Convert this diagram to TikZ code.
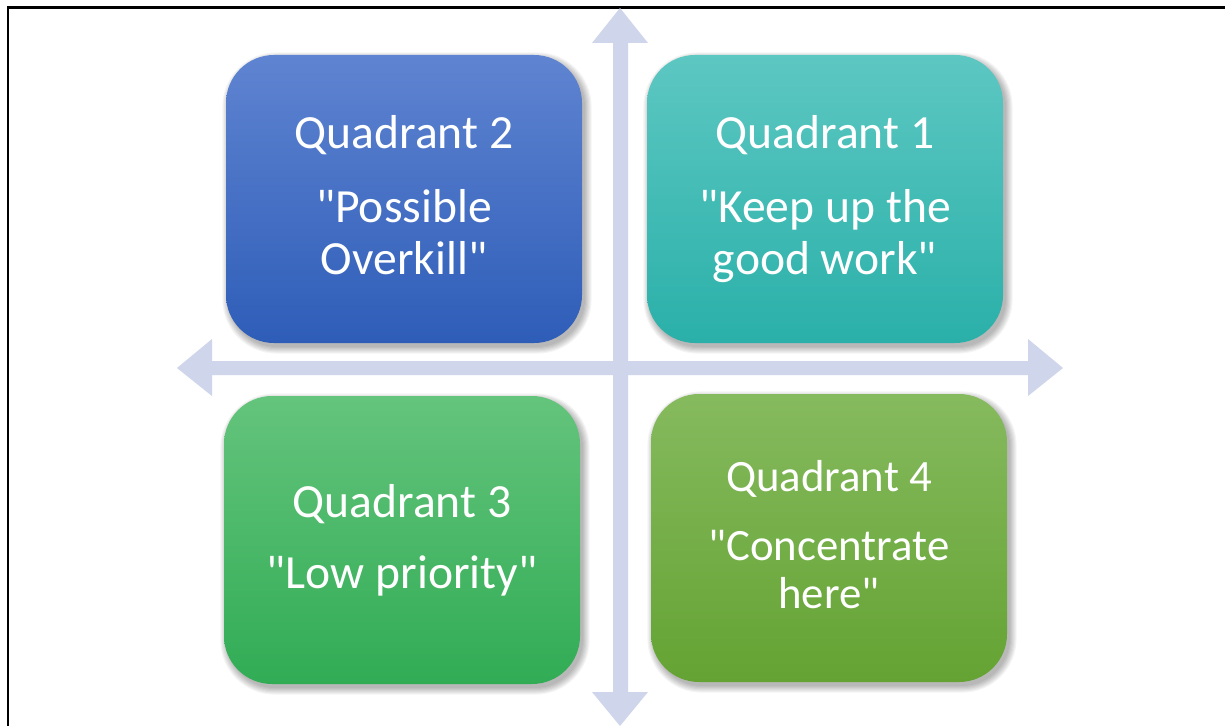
\documentclass[tikz,border=0pt]{standalone}
\usepackage{fontspec}
\setmainfont{Carlito}[Ligatures=TeXOff]
\usetikzlibrary{calc}
\definecolor{axiscol}{HTML}{CFD5EA}
\definecolor{qtwotop}{HTML}{5F84D1}
\definecolor{qtwobot}{HTML}{2E5DB8}
\definecolor{qonetop}{HTML}{5DC7C2}
\definecolor{qonebot}{HTML}{2AB0A9}
\definecolor{qthreetop}{HTML}{64C47C}
\definecolor{qthreebot}{HTML}{31AC55}
\definecolor{qfourtop}{HTML}{86BA5E}
\definecolor{qfourbot}{HTML}{64A333}
\newcommand{\qshadowbox}[4]{%
  \foreach \k in {0,1,...,6}{%
    \fill[black,opacity=0.045,rounded corners=48+\k]
      ({#1+3-\k*1.1},{#2+4-\k*1.1}) rectangle ({#3+3+\k*1.1},{#4+4+\k*1.1});
  }}
\tikzset{
  qbox/.style={rectangle,rounded corners=48,minimum width=356,minimum height=288,inner sep=0pt,draw=none},
  qtext/.style={text=white,anchor=base,inner sep=0pt,font=\fontsize{47.6}{52}\selectfont},
  qtextsmall/.style={text=white,anchor=base,inner sep=0pt,font=\fontsize{44.8}{49}\selectfont},
}
\begin{document}
\begin{tikzpicture}[x=1pt,y=-1pt]
\useasboundingbox (0,0) rectangle (1225,725);
\fill[white] (0,0) rectangle (1225,725);
% frame (left and top edges visible)
\draw[black,line width=2.6] (8,726) -- (8,7.5) -- (1226,7.5);
% axes
\fill[axiscol] (613,43) -- (592,43) -- (620,8) -- (648,43) -- (628,43)
  -- (628,692) -- (648,692) -- (620,726) -- (592,692) -- (613,692) -- cycle;
\fill[axiscol] (212,361) -- (212,339) -- (177,368) -- (212,396) -- (212,375)
  -- (1028,375) -- (1028,396) -- (1063,368) -- (1028,339) -- (1028,361) -- cycle;
% shadows
\qshadowbox{226}{55}{582}{343}
\qshadowbox{647}{55}{1003}{343}
\qshadowbox{224}{396}{580}{684}
\qshadowbox{651}{394}{1007}{682}
% boxes
\node[qbox,top color=qtwotop,bottom color=qtwobot] (q2) at (404,199) {};
\node[qbox,top color=qonetop,bottom color=qonebot] (q1) at (825,199) {};
\node[qbox,top color=qthreetop,bottom color=qthreebot] (q3) at (402,540) {};
\node[qbox,top color=qfourtop,bottom color=qfourbot] (q4) at (829,538) {};
% texts
\node[qtext] (q2a) at (404,148) {Quadrant 2};
\node[qtext] (q2b) at (404,222) {"Possible};
\node[qtext] (q2c) at (404,274) {Overkill"};
\node[qtext] (q1a) at (825,148) {Quadrant 1};
\node[qtext] (q1b) at (825,222) {"Keep up the};
\node[qtext] (q1c) at (825,274) {good work"};
\node[qtext] (q3a) at (402,517) {Quadrant 3};
\node[qtext] (q3b) at (402,588) {"Low priority"};
\node[qtextsmall] (q4a) at (829,491) {Quadrant 4};
\node[qtextsmall] (q4b) at (829,560) {"Concentrate};
\node[qtextsmall] (q4c) at (829,608) {here"};
\end{tikzpicture}
\end{document}
